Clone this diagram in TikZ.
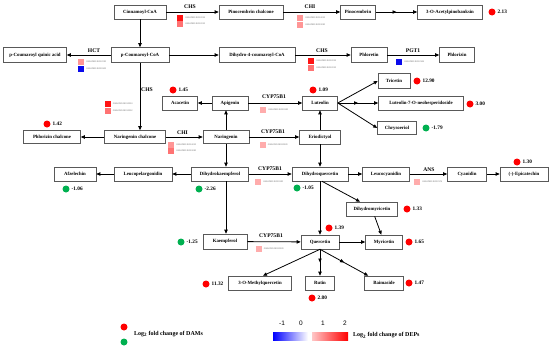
\documentclass[tikz,border=0pt]{standalone}
\usepackage{fontspec}
\setmainfont{Liberation Serif}
\setsansfont{Liberation Sans}
\usetikzlibrary{arrows.meta,decorations.markings}
\definecolor{dotred}{RGB}{255,0,0}
\definecolor{dotgreen}{RGB}{0,176,80}
\definecolor{sqA}{RGB}{255,20,20}
\definecolor{sqB}{RGB}{255,115,115}
\definecolor{sqC}{RGB}{255,150,150}
\definecolor{sqD}{RGB}{255,172,172}
\definecolor{sqblue}{RGB}{10,10,235}
\tikzset{
  box/.style={draw=black!65, line width=0.6pt, fill=white, minimum height=14pt, inner sep=0pt, font=\bfseries\fontsize{4.8}{5}\selectfont},
  arr/.style={-{Triangle[length=4pt,width=3.4pt]}, line width=0.8pt},
  midarr/.style={postaction={decorate}, decoration={markings, mark=at position 0.5 with {\arrow{Triangle[length=4pt,width=3.4pt]}}}},
  enz/.style={font=\bfseries\fontsize{5.6}{6}\selectfont, inner sep=0pt},
  val/.style={font=\bfseries\fontsize{5.3}{6}\selectfont, anchor=west, inner sep=0pt},
  reddot/.style={circle, fill=dotred, minimum size=7pt, inner sep=0pt},
  greendot/.style={circle, fill=dotgreen, minimum size=7pt, inner sep=0pt},
  sq/.style={minimum size=6pt, inner sep=0pt},
  gid/.style={font=\sffamily\fontsize{2.2}{2.4}\selectfont, text=black!55, anchor=west, inner sep=0pt},
  tick/.style={font=\sffamily\fontsize{6.5}{7}\selectfont, inner sep=0pt},
  leg/.style={font=\bfseries\fontsize{6}{7}\selectfont, anchor=west, inner sep=0pt}
}
\newcommand\genesq[4]{\node[sq,fill=#1] (#2) at (#3) {}; \node[gid] (#2-id) at ([xshift=2pt]#2.east) {#4};}
\begin{document}
\begin{tikzpicture}[x=1pt,y=-1pt]
\useasboundingbox (0,0) rectangle (550,348);

% boxes
\node[box, minimum width=52pt] (cin) at (140,12) {Cinnamoyl-CoA};
\node[box, minimum width=64pt] (pinch) at (251,12) {Pinocembrin chalcone};
\node[box, minimum width=35pt] (pino) at (358,12) {Pinocembrin};
\node[box, minimum width=65pt] (acp) at (450,12) {3-O-Acetylpinobanksin};
\node[box, minimum width=63pt, minimum height=15pt] (pcq) at (35,55) {p-Coumaroyl quinic acid};
\node[box, minimum width=58pt, minimum height=15pt] (pco) at (140,55) {p-Coumaroyl-CoA};
\node[box, minimum width=76pt, minimum height=15pt] (dhc) at (257,55) {Dihydro-4-coumaroyl-CoA};
\node[box, minimum width=36pt, minimum height=15pt] (phlt) at (369,55) {Phloretin};
\node[box, minimum width=35pt, minimum height=15pt] (phlz) at (457,55) {Phlorizin};
\node[box, minimum width=35pt] (aca) at (180,103) {Acacetin};
\node[box, minimum width=36pt] (api) at (230,103) {Apigenin};
\node[box, minimum width=35pt] (lut) at (320,103) {Luteolin};
\node[box, minimum width=32pt, minimum height=15pt] (tri) at (394,81) {Tricetin};
\node[box, minimum width=85pt] (l7o) at (421,103) {Luteolin-7-O-neohesperidoside};
\node[box, minimum width=39pt, minimum height=13pt] (chr) at (397,128) {Chrysoeriol};
\node[box, minimum width=57pt, minimum height=13pt] (phc) at (52,137) {Phlorizin chalcone};
\node[box, minimum width=61pt, minimum height=13pt] (nch) at (135,137) {Naringenin chalcone};
\node[box, minimum width=46pt, minimum height=13pt] (nar) at (226,137) {Naringenin};
\node[box, minimum width=41pt] (eri) at (320,137) {Eriodictyol};
\node[box, minimum width=42pt] (afz) at (75,174) {Afzelechin};
\node[box, minimum width=58pt] (leup) at (143,174) {Leucopelargonidin};
\node[box, minimum width=57pt] (dhk) at (220,174) {Dihydrokaempferol};
\node[box, minimum width=56pt] (dhq) at (320,174) {Dihydroquercetin};
\node[box, minimum width=47pt] (leuc) at (386,174) {Leucocyanidin};
\node[box, minimum width=39pt] (cya) at (467,174) {Cyanidin};
\node[box, minimum width=48pt] (epi) at (524,174) {(-)-Epicatechin};
\node[box, minimum width=51pt] (dhm) at (372,209) {Dihydromyricetin};
\node[box, minimum width=44pt, minimum height=15pt] (kae) at (225,241.5) {Kaempferol};
\node[box, minimum width=38pt] (que) at (320,242) {Quercetin};
\node[box, minimum width=37pt] (myr) at (384,242) {Myricetin};
\node[box, minimum width=63pt] (omq) at (260,283) {3-O-Methylquercetin};
\node[box, minimum width=29pt] (rut) at (320,283) {Rutin};
\node[box, minimum width=39pt] (bai) at (384,283) {Baimaside};

% connectors
\draw[arr] (cin) -- (pinch);
\draw[arr] (pinch) -- (pino);
\draw[arr,midarr] (pino) -- (acp);
\draw[arr] (cin) -- (pco);
\draw[arr] (pco) -- (pcq);
\draw[arr] (pco) -- (dhc);
\draw[arr] (dhc) -- (phlt);
\draw[arr] (phlt) -- (phlz);
\draw[arr] (pco.south) -- (pco.south |- nch.north);
\draw[arr] (nch) -- (phc);
\draw[arr] (nch) -- (nar);
\draw[arr] (nar.north) -- (nar.north |- api.south);
\draw[arr] (api) -- (aca);
\draw[arr] (api) -- (lut);
\draw[arr] (nar) -- (eri);
\draw[arr] (eri) -- (lut);
\draw[arr] (lut.east) -- (tri.west);
\draw[arr,midarr] (lut) -- (l7o);
\draw[arr] (lut.east) -- (chr.west);
\draw[arr] (eri) -- (dhq);
\draw[arr] (nar.south) -- (nar.south |- dhk.north);
\draw[arr] (dhk) -- (leup);
\draw[arr] (leup) -- (afz);
\draw[arr] (dhk) -- (dhq);
\draw[arr] (dhq) -- (leuc);
\draw[arr] (leuc) -- (cya);
\draw[arr] (cya) -- (epi);
\draw[arr] ([xshift=2pt]dhq.south) -- ([xshift=-12pt]dhm.north);
\draw[arr] (dhq) -- (que);
\draw[arr] (dhm) -- (myr);
\draw[arr] (que) -- (myr);
\draw[arr] (nar.south |- dhk.south) -- (nar.south |- kae.north);
\draw[arr] (kae) -- (que);
\draw[arr] (que.south) -- ([xshift=3pt]omq.north);
\draw[arr,midarr] (que) -- (rut);
\draw[arr,midarr] (que.south) -- ([xshift=4pt]bai.north west);

% enzyme labels
\node[enz] (e1) at (190,7) {CHS};
\node[enz] (e2) at (310,7) {CHI};
\node[enz] (e3) at (94,50.5) {HCT};
\node[enz] (e4) at (322,50.5) {CHS};
\node[enz] (e5) at (413,50.5) {PGT1};
\node[enz] (e6) at (147,90) {CHS};
\node[enz] (e7) at (182.5,132.5) {CHI};
\node[enz] (e8) at (274,97) {CYP75B1};
\node[enz] (e9) at (273,131.5) {CYP75B1};
\node[enz] (e10) at (270,169) {CYP75B1};
\node[enz] (e11) at (271,236) {CYP75B1};
\node[enz] (e12) at (429,169.5) {ANS};

% gene squares
\genesq{sqA}{s1}{180,18}{GWHPBDJE012013}
\genesq{sqB}{s2}{180,24}{GWHPBDJE012012}
\genesq{sqC}{s3}{300,18}{GWHPBDJE014012}
\genesq{sqC}{s4}{300,24.5}{GWHPBDJE023030}
\genesq{sqC}{s5}{81,62}{GWHPBDJE012220}
\genesq{sqblue}{s6}{81,69}{GWHPBDJE020302}
\genesq{sqA}{s7}{311,61}{GWHPBDJE012013}
\genesq{sqB}{s8}{311,67.5}{GWHPBDJE012012}
\genesq{sqblue}{s9}{399,61.5}{GWHPBDJE012304}
\genesq{sqA}{s10}{107.5,104}{GWHPBDJE012013}
\genesq{sqB}{s11}{107.5,110.5}{GWHPBDJE012012}
\genesq{sqC}{s12}{171,144.5}{GWHPBDJE014012}
\genesq{sqB}{s13}{171,150.5}{GWHPBDJE023030}
\genesq{sqD}{s14}{263,109.5}{GWHPBDJE020320}
\genesq{sqD}{s15}{262.5,144.5}{GWHPBDJE020320}
\genesq{sqD}{s16}{258,182}{GWHPBDJE020320}
\genesq{sqD}{s17}{258.5,248.5}{GWHPBDJE020320}
\genesq{sqD}{s18}{417,181.5}{GWHPBDJE022376}

% fold-change dots and values
\node[reddot] (d1) at (492,12) {}; \node[val] (v1) at (497.5,12) {2.13};
\node[reddot] (d2) at (173,90) {}; \node[val] (v2) at (178.5,90) {1.45};
\node[reddot] (d3) at (313,90) {}; \node[val] (v3) at (318.5,90) {1.09};
\node[reddot] (d4) at (417,81) {}; \node[val] (v4) at (422.5,81) {12.90};
\node[reddot] (d5) at (470,104) {}; \node[val] (v5) at (475.5,104) {3.00};
\node[greendot] (d6) at (426,128) {}; \node[val] (v6) at (431.5,128) {-1.79};
\node[reddot] (d7) at (47,124) {}; \node[val] (v7) at (52.5,124) {1.42};
\node[greendot] (d8) at (66,189) {}; \node[val] (v8) at (71.5,189) {-1.06};
\node[greendot] (d9) at (199,189) {}; \node[val] (v9) at (204.5,189) {-2.26};
\node[greendot] (d10) at (297,188) {}; \node[val] (v10) at (302.5,188) {-1.05};
\node[reddot] (d11) at (517,162) {}; \node[val] (v11) at (522.5,162) {1.30};
\node[reddot] (d12) at (407,209) {}; \node[val] (v12) at (412.5,209) {1.33};
\node[reddot] (d13) at (329,228) {}; \node[val] (v13) at (334.5,228) {1.39};
\node[reddot] (d14) at (409,242) {}; \node[val] (v14) at (414.5,242) {1.65};
\node[greendot] (d15) at (181,242) {}; \node[val] (v15) at (186.5,242) {-1.25};
\node[reddot] (d16) at (206,284) {}; \node[val] (v16) at (211.5,284) {11.32};
\node[reddot] (d17) at (312,298) {}; \node[val] (v17) at (317.5,298) {2.80};
\node[reddot] (d18) at (409,283) {}; \node[val] (v18) at (414.5,283) {1.47};

% legend
\node[reddot] (l1) at (124,327) {};
\node[greendot] (l2) at (124,342) {};
\node[leg] (lt1) at (134,334) {Log\textsubscript{2} fold change of DAMs};
\shade[left color=blue, right color=white] (273,332) rectangle (308,340);
\fill[white] (308,332) rectangle (312,340);
\shade[left color=red!22, right color=red] (312,332) rectangle (348,340);
\node[tick] (t1) at (282,323) {-1};
\node[tick] (t2) at (301,323) {0};
\node[tick] (t3) at (323,323) {1};
\node[tick] (t4) at (345,323) {2};
\node[leg] (lt2) at (353,335.5) {Log\textsubscript{2} fold change of DEPs};
\end{tikzpicture}
\end{document}
